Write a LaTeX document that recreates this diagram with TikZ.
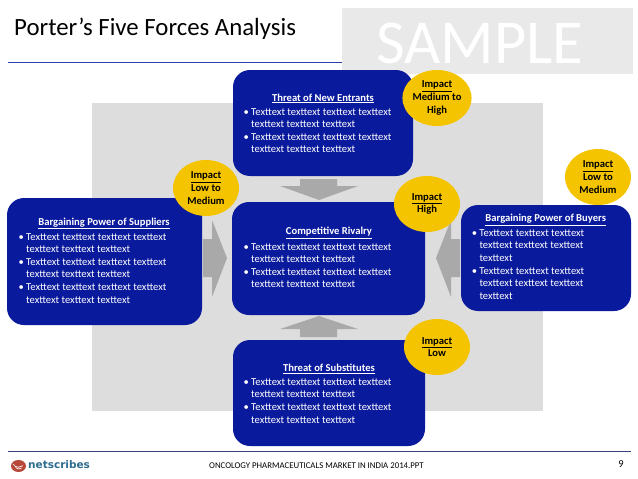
\documentclass[tikz,border=0pt]{standalone}
\usepackage{fontspec}
\setmainfont{Carlito}
\newfontfamily\logofont{DejaVu Sans}
\usetikzlibrary{shapes.geometric}
\definecolor{boxblue}{HTML}{0A1A9C}
\definecolor{impactyellow}{HTML}{F5C400}
\definecolor{panelgray}{HTML}{DDDDDD}
\definecolor{arrowgray}{HTML}{A9A9A9}
\definecolor{samplegray}{HTML}{E9E9E9}
\definecolor{ruleblue}{HTML}{2A3FA8}
\definecolor{footrule}{HTML}{3A3F7C}
\definecolor{logoteal}{HTML}{2E6C8E}
\definecolor{logored}{HTML}{B8483A}
\newcommand{\uline}[1]{\underline{#1}}
\newcommand{\bl}{\leavevmode\llap{•\hspace{2.4pt}}}
\tikzset{
  x=1pt,y=-1pt,
  forcebox/.style={fill=boxblue,draw=none,rounded corners=17pt},
  headtext/.style={text=white,inner sep=0pt,font=\fontsize{10.6}{12.6}\selectfont\bfseries},
  bodytext/.style={text=white,inner sep=0pt,anchor=north west,align=left,font=\fontsize{10.6}{12.65}\selectfont},
  impact/.style={ellipse,fill=impactyellow,draw=none,minimum width=66pt,minimum height=56pt,inner sep=0pt,align=center,text=black,font=\fontsize{10.6}{12.65}\selectfont\bfseries},
  blockarrow/.style={fill=arrowgray,draw=none},
}
\begin{document}
\begin{tikzpicture}
\useasboundingbox (0,0) rectangle (638,479);
\fill[white] (0,0) rectangle (638,479);
% header
\fill[samplegray] (342,8) rectangle (633,74);
\node[text=white,inner sep=0pt,font=\fontsize{62.5}{62}\selectfont] (sample) at (480,43) {SAMPLE};
\node[anchor=west,inner sep=0pt,font=\fontsize{24.8}{26}\selectfont] (title) at (14,29) {Porter’s Five Forces Analysis};
\draw[ruleblue,line width=1pt] (8,62.5) -- (342,62.5);
% panel
\fill[panelgray] (92,103) rectangle (543,411);
% arrows
\fill[blockarrow] (300,179) -- (337,179) -- (337,186) -- (358,186) -- (319,200) -- (280,186) -- (300,186) -- cycle;
\fill[blockarrow] (300,337) -- (337,337) -- (337,329) -- (358,329) -- (319,316) -- (280,329) -- (300,329) -- cycle;
\fill[blockarrow] (203,239) -- (212,239) -- (212,220) -- (227,258) -- (212,297) -- (212,277) -- (203,277) -- cycle;
\fill[blockarrow] (460,239) -- (451,239) -- (451,220) -- (436,258) -- (451,297) -- (451,277) -- (460,277) -- cycle;
% boxes
\fill[forcebox] (233,70) rectangle (413,176);
\fill[forcebox] (232,202) rectangle (425,315);
\fill[forcebox] (233,340) rectangle (425,446);
\fill[forcebox] (7,198) rectangle (202,325);
\fill[forcebox] (461,205) rectangle (631,311);
% box text
\node[headtext] (hne) at (323,98.5) {\uline{Threat of New Entrants}};
\node[bodytext] (bne) at (251,108) {\bl Texttext texttext texttext texttext\\texttext texttext texttext\\\bl Texttext texttext texttext texttext\\texttext texttext texttext};
\node[headtext] (hcr) at (329,233) {\uline{Competitive Rivalry}};
\node[bodytext] (bcr) at (251,243) {\bl Texttext texttext texttext texttext\\texttext texttext texttext\\\bl Texttext texttext texttext texttext\\texttext texttext texttext};
\node[headtext] (hts) at (329,368.7) {\uline{Threat of Substitutes}};
\node[bodytext] (bts) at (251,378.2) {\bl Texttext texttext texttext texttext\\texttext texttext texttext\\\bl Texttext texttext texttext texttext\\texttext texttext texttext};
\node[headtext] (hsu) at (104,223.5) {\uline{Bargaining Power of Suppliers}};
\node[bodytext] (bsu) at (26,233) {\bl Texttext texttext texttext texttext\\texttext texttext texttext\\\bl Texttext texttext texttext texttext\\texttext texttext texttext\\\bl Texttext texttext texttext texttext\\texttext texttext texttext};
\node[headtext] (hbu) at (545.7,219.7) {\uline{Bargaining Power of Buyers}};
\node[bodytext] (bbu) at (479.3,229.2) {\bl Texttext texttext texttext\\texttext texttext texttext\\texttext\\\bl Texttext texttext texttext\\texttext texttext texttext\\texttext};
% impact
\node[impact] (i1) at (206,188) {\uline{Impact}\\Low to\\Medium};
\node[impact] (i2) at (437,98) {\uline{Impact}\\Medium to\\High};
\node[impact] (i3) at (427,204) {\uline{Impact}\\High};
\node[impact] (i4) at (598,177) {\uline{Impact}\\Low to\\Medium};
\node[impact] (i5) at (437,347) {\uline{Impact}\\Low};
% footer
\draw[footrule,line width=1pt] (8,451.5) -- (631,451.5);
\fill[logored] (18.5,466) ellipse [x radius=7.5,y radius=6];
\draw[white,line width=0.7pt] (13,464) arc[start angle=150,end angle=50,radius=6.5];
\draw[white,line width=0.7pt] (15.5,467) arc[start angle=150,end angle=50,radius=4];
\node[anchor=west,inner sep=0pt,text=logoteal,font=\logofont\bfseries\fontsize{10.5}{12}\selectfont] (logo) at (28,464.5) {netscribes};
\node[anchor=west,inner sep=0pt,font=\fontsize{8.8}{10}\selectfont] (foot) at (209,466) {ONCOLOGY PHARMACEUTICALS MARKET IN INDIA 2014.PPT};
\node[inner sep=0pt,font=\fontsize{10.5}{12}\selectfont] (page) at (621,464.5) {9};
\end{tikzpicture}
\end{document}
